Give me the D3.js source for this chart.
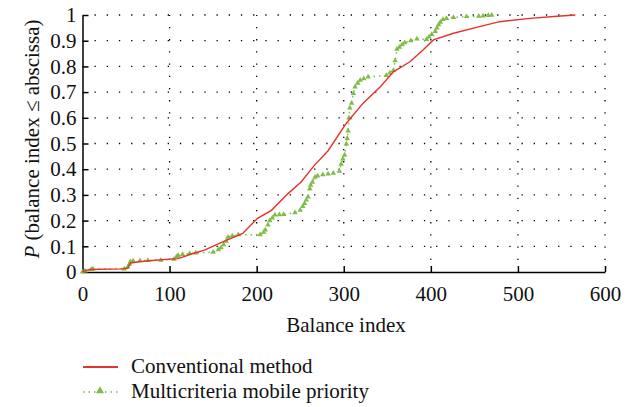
<!DOCTYPE html>
<html>
<head>
<meta charset="utf-8">
<script src="https://cdn.jsdelivr.net/npm/d3@7/dist/d3.min.js"></script>
<style>
  body { margin: 0; background: #fff; }
  svg text { font-family: "Liberation Serif", "DejaVu Serif", "Times New Roman", serif !important; }
</style>
</head>
<body>
<svg width="634" height="407"></svg>
<script>
(function(){
	'use strict';

	// tick values
	const xTicks = [0, 100, 200, 300, 400, 500, 600];
	const yTicks = [0, 0.1, 0.2, 0.3, 0.4, 0.5, 0.6, 0.7, 0.8, 0.9, 1];

	// conventional method: [balance index, P]
	const conventional = [
		[0, 0], [3, 0.005], [8, 0.01], [45, 0.012], [52, 0.015], [55, 0.035],
		[65, 0.04], [80, 0.045], [100, 0.05], [110, 0.052], [125, 0.07],
		[140, 0.085], [163, 0.12], [184, 0.15], [201, 0.209], [217, 0.24],
		[236, 0.305], [251, 0.35], [266, 0.414], [282, 0.472], [303, 0.579],
		[322, 0.656], [342, 0.721], [357, 0.779], [376, 0.818], [391, 0.864],
		[403, 0.903], [426, 0.929], [456, 0.955], [479, 0.974], [514, 0.987],
		[545, 0.995], [566, 1.0]
	];

	// multicriteria mobile priority: [balance index, P]
	const multicriteria = [
		[0, 0], [3, 0.004], [10, 0.01], [12, 0.012], [48, 0.012], [52, 0.02],
		[54, 0.03], [55, 0.04], [58, 0.043], [66, 0.044], [75, 0.045], [90, 0.046],
		[105, 0.05], [108, 0.06], [110, 0.065], [115, 0.068], [123, 0.072],
		[130, 0.074], [150, 0.077], [156, 0.087], [159, 0.095], [162, 0.106],
		[165, 0.12], [167, 0.136], [172, 0.14], [179, 0.145], [204, 0.145],
		[208, 0.155], [210, 0.164], [213, 0.183], [215, 0.2], [218, 0.21],
		[221, 0.222], [226, 0.223], [231, 0.224], [244, 0.231], [250, 0.241],
		[253, 0.255], [255, 0.267], [257, 0.28], [259, 0.292], [261, 0.324],
		[262, 0.338], [264, 0.35], [267, 0.369], [270, 0.374], [276, 0.379],
		[282, 0.382], [288, 0.385], [295, 0.392], [297, 0.42], [299, 0.44],
		[301, 0.456], [303, 0.498], [304, 0.52], [305, 0.549], [306, 0.6],
		[307, 0.638], [309, 0.657], [311, 0.695], [313, 0.72], [316, 0.735],
		[319, 0.746], [323, 0.752], [328, 0.759], [349, 0.765], [353, 0.775],
		[357, 0.784], [359, 0.822], [361, 0.867], [364, 0.875], [367, 0.885],
		[370, 0.892], [377, 0.9], [384, 0.907], [395, 0.905], [398, 0.915],
		[401, 0.924], [405, 0.936], [407, 0.95], [409, 0.962], [411, 0.972],
		[414, 0.983], [418, 0.987], [426, 0.991], [441, 0.994], [455, 0.995],
		[460, 0.996], [466, 0.998], [470, 0.999]
	];

	const seriesNames = ['Conventional method', 'Multicriteria mobile priority'];
	const colors = ['#e8302c', '#7fbd45'];
	const fontSize = '21px';

	const svg = d3.select('svg');
	const left = 82.5, right = 605, top = 15, bottom = 272;

	const x = d3.scaleLinear().domain([0, 600]).range([left, right]);
	const y = d3.scaleLinear().domain([0, 1]).range([bottom, top]);

	// dotted grid
	const grid = svg.append('g')
		.attr('stroke', '#000')
		.attr('stroke-width', 1.3)
		.attr('stroke-dasharray', '1.3,10.9');

	grid.selectAll('.hg')
		.data(yTicks.slice(1))
		.join('line')
			.attr('x1', left + 12).attr('x2', right)
			.attr('y1', d => y(d)).attr('y2', d => y(d));

	grid.selectAll('.vg')
		.data(xTicks.slice(1))
		.join('line')
			.attr('x1', d => x(d)).attr('x2', d => x(d))
			.attr('y1', bottom - 12).attr('y2', top);

	// axes
	const xAxis = svg.append('g')
		.attr('transform', `translate(0, ${bottom})`)
		.call(d3.axisBottom(x).tickValues(xTicks).tickSizeInner(-6).tickSizeOuter(0).tickPadding(14));
	const yAxis = svg.append('g')
		.attr('transform', `translate(${left}, 0)`)
		.call(d3.axisLeft(y).tickValues(yTicks).tickFormat(d3.format('')).tickSizeInner(-6).tickSizeOuter(0).tickPadding(6));

	[xAxis, yAxis].forEach(a => {
		a.attr('font-family', null).attr('font-size', null);
		a.select('.domain').attr('stroke', '#000').attr('stroke-width', 1.5);
		a.selectAll('.tick line').attr('stroke', '#000').attr('stroke-width', 1.5);
		a.selectAll('text')
			.attr('fill', '#111')
			.style('font-size', fontSize);
	});
	xAxis.select('.tick line').remove();
	yAxis.select('.tick line').remove();

	// axis titles
	svg.append('text')
		.attr('x', 346).attr('y', 332)
		.attr('text-anchor', 'middle')
		.attr('fill', '#111')
		.style('font-size', fontSize)
		.text('Balance index');

	const yTitle = svg.append('text')
		.attr('transform', `translate(39, 139) rotate(-90)`)
		.attr('text-anchor', 'middle')
		.attr('fill', '#111')
		.style('font-size', fontSize);
	yTitle.append('tspan').attr('font-style', 'italic').text('P');
	yTitle.append('tspan').text(' (balance index \u2264 abscissa)');

	// lines
	const line = d3.line().x(d => x(d[0])).y(d => y(d[1]));

	svg.append('path')
		.datum(multicriteria)
		.attr('d', line)
		.attr('fill', 'none')
		.attr('stroke', colors[1])
		.attr('stroke-width', 1.5)
		.attr('stroke-dasharray', '1.5,4');

	const tri = d3.symbol(d3.symbolTriangle, 13);
	svg.append('g')
		.selectAll('path')
		.data(multicriteria)
		.join('path')
			.attr('transform', d => `translate(${x(d[0])}, ${y(d[1])})`)
			.attr('d', tri)
			.attr('fill', colors[1]);

	svg.append('path')
		.datum(conventional)
		.attr('d', line)
		.attr('fill', 'none')
		.attr('stroke', colors[0])
		.attr('stroke-width', 1.4);

	// legend
	const legend = svg.append('g');
	const rows = legend.selectAll('g')
		.data(seriesNames)
		.join('g')
			.attr('transform', (d, i) => `translate(0, ${367 + i * 25})`);

	rows.append('line')
		.attr('x1', 83).attr('x2', 118)
		.attr('stroke', (d, i) => colors[i])
		.attr('stroke-width', (d, i) => i ? 1.5 : 2)
		.attr('stroke-dasharray', (d, i) => i ? '1.5,4' : null);

	rows.filter((d, i) => i === 1)
		.append('path')
			.attr('transform', 'translate(100, -1)')
			.attr('d', d3.symbol(d3.symbolTriangle, 28))
			.attr('fill', colors[1]);

	rows.append('text')
		.attr('x', 131).attr('y', 6)
		.attr('fill', '#111')
		.style('font-size', fontSize)
		.text(d => d);
})();
</script>
</body>
</html>
